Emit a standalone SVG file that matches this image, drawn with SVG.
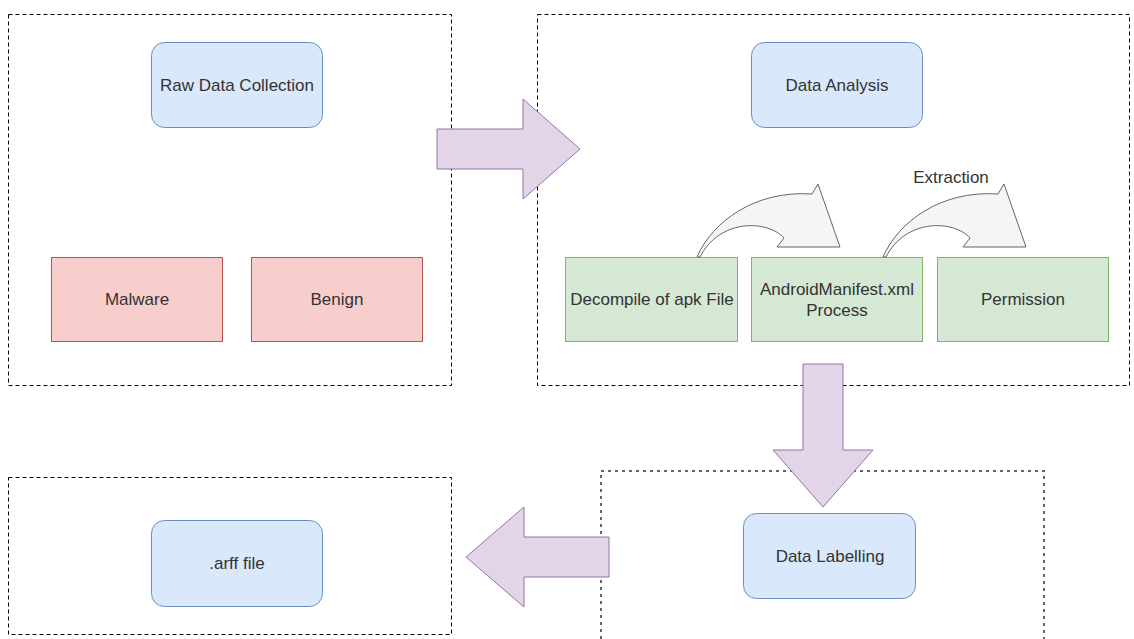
<svg xmlns="http://www.w3.org/2000/svg" width="1134" height="639" viewBox="0 0 1134 639">
<style>
.bg{fill:#ffffff}
.grp{fill:none;stroke:#000;stroke-width:1;stroke-dasharray:4 3}
.grp2{fill:none;stroke:#666;stroke-width:2;stroke-dasharray:3 4}
.blue{fill:#dae8fc;stroke:#6c8ebf;stroke-width:1}
.red{fill:#f8cecc;stroke:#b85450;stroke-width:1}
.green{fill:#d5e8d4;stroke:#82b366;stroke-width:1}
.big{fill:#e1d5e7;stroke:#9673a6;stroke-width:1}
.curve{fill:#f5f5f5;stroke:#666;stroke-width:1}
text{font-family:"Liberation Sans",Arial,sans-serif;font-size:17px;fill:#333;text-anchor:middle}
</style>
<rect class="bg" x="0" y="0" width="1134" height="639"/>
<g id="group-raw"><rect class="grp" x="8.5" y="14.5" width="443" height="371"/></g>
<g id="group-analysis"><rect class="grp" x="537.5" y="14.5" width="592" height="371"/></g>
<g id="group-arff"><rect class="grp" x="8.5" y="477.5" width="443" height="157"/></g>
<g id="group-labelling"><rect class="grp2" x="601" y="471" width="443" height="180"/></g>

<g id="raw-data-collection"><rect class="blue" x="151.5" y="42.5" width="171" height="85" rx="13"/><text x="237" y="91">Raw Data Collection</text></g>
<g id="malware"><rect class="red" x="51.5" y="257.5" width="171" height="84"/><text x="137" y="305">Malware</text></g>
<g id="benign"><rect class="red" x="251.5" y="257.5" width="171" height="84"/><text x="337" y="305">Benign</text></g>
<g id="data-analysis"><rect class="blue" x="751.5" y="42.5" width="171" height="85" rx="13"/><text x="837" y="91">Data Analysis</text></g>
<g id="decompile"><rect class="green" x="565.5" y="257.5" width="172" height="84"/><text x="652" y="305">Decompile of apk File</text></g>
<g id="manifest"><rect class="green" x="751.5" y="257.5" width="171" height="84"/><text x="837" y="295">AndroidManifest.xml</text><text x="837" y="316">Process</text></g>
<g id="permission"><rect class="green" x="937.5" y="257.5" width="171" height="84"/><text x="1023" y="305">Permission</text></g>
<g id="data-labelling"><rect class="blue" x="743.5" y="513.5" width="172" height="85" rx="13"/><text x="830" y="562">Data Labelling</text></g>
<g id="arff-file"><rect class="blue" x="151.5" y="520.5" width="171" height="86" rx="13"/><text x="237" y="569">.arff file</text></g>

<g id="connectors">
<path class="big" d="M437,129 L523,129 L523,99 L580,149 L523,199 L523,169 L437,169 Z"/>
<path class="big" d="M803,364 L843,364 L843,450 L873,450 L823,507 L773,450 L803,450 Z"/>
<path class="big" d="M609,537 L609,577 L524,577 L524,607 L466,557 L524,507 L524,537 Z"/>
<path id="curve1" class="curve" d="M697,257 C712,222 755,190 812,194 L818,184 L840,247 L777,247 L784,238 C768,220 720,218 700,257 Z"/>
<path id="curve2" class="curve" transform="translate(186,0)" d="M697,257 C712,222 755,190 812,194 L818,184 L840,247 L777,247 L784,238 C768,220 720,218 700,257 Z"/>
<text x="951" y="183">Extraction</text>
</g>
</svg>
